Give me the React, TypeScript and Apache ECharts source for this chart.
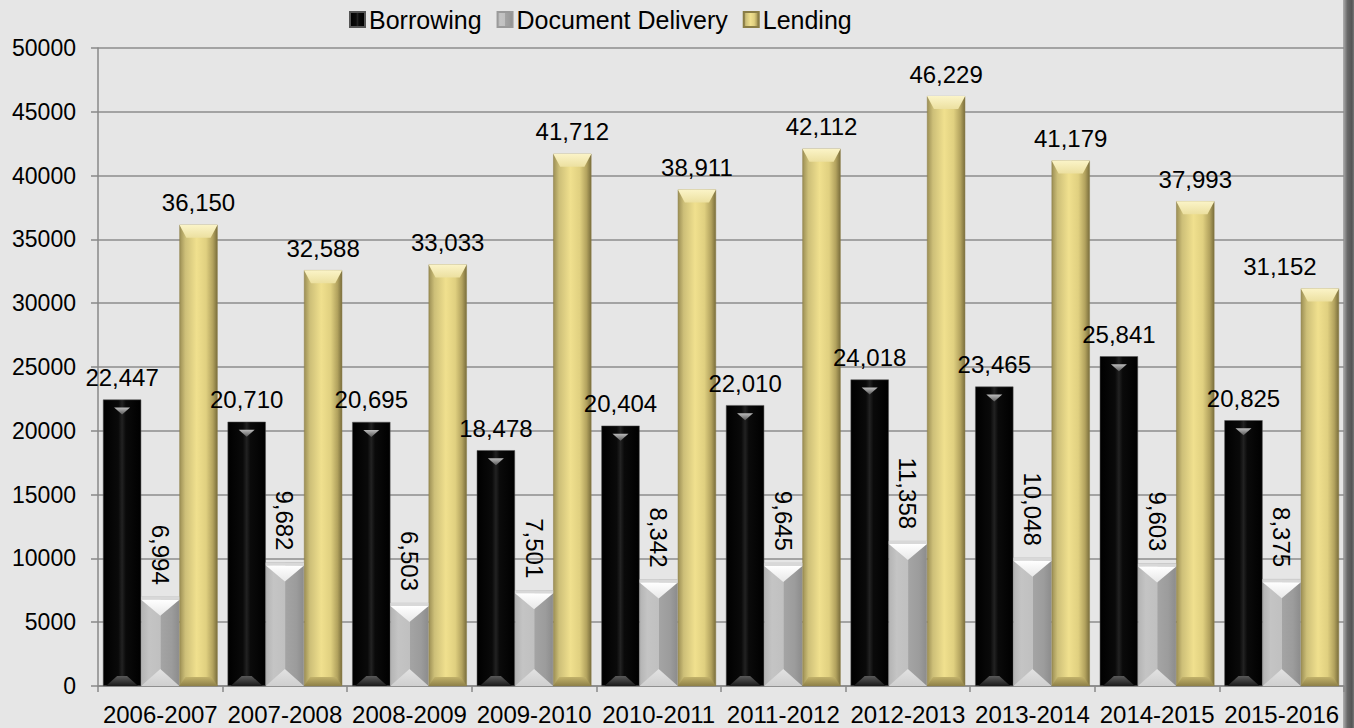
import React, { useEffect, useRef } from "react";
import * as echarts from "echarts";

const categories = ["2006-2007", "2007-2008", "2008-2009", "2009-2010", "2010-2011", "2011-2012", "2012-2013", "2013-2014", "2014-2015", "2015-2016"];
const borrowing = [22447, 20710, 20695, 18478, 20404, 22010, 24018, 23465, 25841, 20825];
const documentDelivery = [6994, 9682, 6503, 7501, 8342, 9645, 11358, 10048, 9603, 8375];
const lending = [36150, 32588, 33033, 41712, 38911, 42112, 46229, 41179, 37993, 31152];

const fmt = (v: number) => v.toLocaleString("en-US");

const grad = (stops: [number, string][], x2 = 1, y2 = 0) =>
  new echarts.graphic.LinearGradient(0, 0, x2, y2, stops.map(([offset, color]) => ({ offset, color })));

const CAT_GAP = 0.08;

function bevelSeries(name: string, values: number[], k: number) {
  return {
    name,
    type: "custom",
    silent: true,
    z: 5,
    data: values.map((v, i) => [i, v]),
    encode: { x: 0, y: 1 },
    renderItem: (params: any, api: any) => {
      const i = api.value(0);
      const v = api.value(1);
      const t = api.coord([i, v]);
      const b = api.coord([i, 0]);
      const band = api.size([1, 0])[0];
      const w = (band * (1 - CAT_GAP)) / 3;
      const cx = t[0] + (k - 1) * w;
      const l = cx - w / 2;
      const r = cx + w / 2;
      const top = t[1];
      const bot = b[1];
      const children: any[] = [];
      if (k === 0) {
        children.push({
          type: "polygon",
          shape: { points: [[cx - 8, top + 8], [cx + 8, top + 8], [cx, top + 15]] },
          style: { fill: grad([[0, "#bdbdbd"], [1, "#5a5a5a"]], 0, 1) },
        });
        children.push({
          type: "polygon",
          shape: { points: [[l + 3, bot], [cx - 5, bot - 10], [cx + 5, bot - 10], [r - 3, bot]] },
          style: { fill: grad([[0, "#5a5a5a"], [1, "#1a1a1a"]], 0, 1) },
        });
      } else if (k === 1) {
        children.push({
          type: "rect",
          shape: { x: l, y: top, width: w, height: 3 },
          style: { fill: "#d8d8d8" },
        });
        children.push({
          type: "polygon",
          shape: { points: [[l, top + 3], [r, top + 3], [cx, top + 19]] },
          style: { fill: grad([[0, "#ffffff"], [1, "#e8e8e8"]], 0, 1) },
        });
        children.push({
          type: "polygon",
          shape: { points: [[l, bot], [r, bot], [cx, bot - 17]] },
          style: { fill: grad([[0, "#e2e2e2"], [1, "#cfcfcf"]], 0, 1) },
        });
      } else {
        children.push({
          type: "polygon",
          shape: { points: [[l, top], [r, top], [r - 7, top + 13], [l + 7, top + 13]] },
          style: { fill: grad([[0, "#fbf4c8"], [1, "#ece0a0"]], 0, 1) },
        });
        children.push({
          type: "polygon",
          shape: { points: [[l, bot], [r, bot], [r - 6, bot - 9], [l + 6, bot - 9]] },
          style: { fill: grad([[0, "#c2b26a"], [1, "#8e8048"]], 0, 1) },
        });
      }
      return { type: "group", children };
    },
  };
}

export default function App() {
  const ref = useRef<HTMLDivElement>(null);
  useEffect(() => {
    if (!ref.current) return;
    const chart = echarts.init(ref.current, null, { renderer: "svg" });
    const font = "'Liberation Sans', Arial, sans-serif";
    const labelBase = {
      show: true,
      fontFamily: font,
      fontSize: 24,
      color: "#000",
      formatter: (p: any) => fmt(p.value),
    };
    const lendingData = lending.map((v, i) =>
      i === lending.length - 1 ? { value: v, label: { offset: [-40, 0] } } : v
    );
    chart.setOption({
      animation: false,
      backgroundColor: "#e6e6e6",
      textStyle: { fontFamily: font },
      legend: {
        top: 2,
        left: 344,
        itemWidth: 15,
        itemHeight: 15,
        itemGap: 15,
        icon: "rect",
        textStyle: { fontSize: 25, color: "#000", fontFamily: font, padding: [0, 0, 0, -1] },
        data: ["Borrowing", "Document Delivery", "Lending"],
      },
      grid: { left: 98, right: 10, top: 48, bottom: 42, containLabel: false },
      xAxis: {
        type: "category",
        data: categories,
        axisLine: { lineStyle: { color: "#888", width: 1.5 } },
        axisTick: { show: true, length: 6, lineStyle: { color: "#888", width: 1.5 } },
        axisLabel: { interval: 0, fontSize: 24, color: "#000", margin: 16, fontFamily: font },
      },
      yAxis: {
        type: "value",
        min: 0,
        max: 50000,
        interval: 5000,
        axisLine: { show: true, lineStyle: { color: "#888", width: 1.5 } },
        axisTick: { show: true, length: 7, lineStyle: { color: "#888", width: 1.5 } },
        axisLabel: { fontSize: 23, color: "#000", margin: 22, fontFamily: font, formatter: (v: number) => String(v) },
        splitLine: { lineStyle: { color: "#8c8c8c", width: 1.5 } },
      },
      series: [
        {
          name: "Borrowing",
          type: "bar",
          data: borrowing,
          barGap: "0%",
          barCategoryGap: CAT_GAP * 100 + "%",
          itemStyle: {
            color: grad([[0, "#000"], [0.4, "#0a0a0a"], [0.5, "#222"], [0.6, "#0a0a0a"], [1, "#000"]]),
            borderColor: "#555",
            borderWidth: 0.5,
          },
          label: { ...labelBase, position: "top", distance: 10 },
        },
        {
          name: "Document Delivery",
          type: "bar",
          data: documentDelivery,
          itemStyle: {
            color: grad([[0, "#b4b4b4"], [0.2, "#c4c4c4"], [0.5, "#c0c0c0"], [0.52, "#a4a4a4"], [0.8, "#9c9c9c"], [1, "#8c8c8c"]]),
            borderColor: "#9a9a9a",
            borderWidth: 0.5,
          },
          label: { ...labelBase, position: "top", rotate: -90, align: "right", verticalAlign: "middle", distance: 12 },
        },
        {
          name: "Lending",
          type: "bar",
          data: lendingData,
          itemStyle: {
            color: grad([[0, "#9c8f55"], [0.15, "#cdbf78"], [0.45, "#f0e08e"], [0.7, "#e0d080"], [0.88, "#b2a25e"], [1, "#7a6e3c"]]),
            borderColor: "#8a7d45",
            borderWidth: 0.5,
          },
          label: { ...labelBase, position: "top", distance: 10 },
        },
        bevelSeries("bevel-b", borrowing, 0),
        bevelSeries("bevel-d", documentDelivery, 1),
        bevelSeries("bevel-l", lending, 2),
      ],
      graphic: [
        {
          type: "rect",
          right: 0,
          top: 0,
          shape: { width: 11, height: 728 },
          style: {
            fill: new echarts.graphic.LinearGradient(0, 0, 1, 0, [
              { offset: 0, color: "#b0b0b0" },
              { offset: 0.4, color: "#6a6a6a" },
              { offset: 0.8, color: "#555" },
              { offset: 1, color: "#777" },
            ]),
          },
          silent: true,
        },
      ],
    });
    return () => chart.dispose();
  }, []);
  return <div ref={ref} style={{ position: "fixed", left: 0, top: 0, width: 1354, height: 728 }} />;
}
